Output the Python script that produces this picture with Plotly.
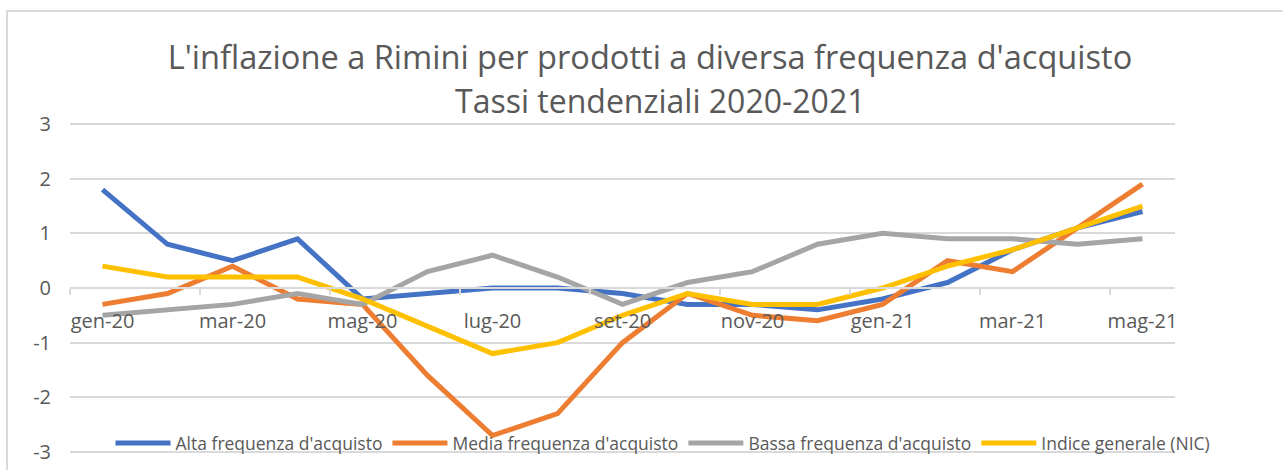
import plotly.graph_objects as go

months = ["gen-20", "feb-20", "mar-20", "apr-20", "mag-20", "giu-20", "lug-20", "ago-20",
          "set-20", "ott-20", "nov-20", "dic-20", "gen-21", "feb-21", "mar-21", "apr-21", "mag-21"]

alta = [1.8, 0.8, 0.5, 0.9, -0.2, -0.1, 0.0, 0.0, -0.1, -0.3, -0.3, -0.4, -0.2, 0.1, 0.7, 1.1, 1.4]
media = [-0.3, -0.1, 0.4, -0.2, -0.3, -1.6, -2.7, -2.3, -1.0, -0.1, -0.5, -0.6, -0.3, 0.5, 0.3, 1.1, 1.9]
bassa = [-0.5, -0.4, -0.3, -0.1, -0.3, 0.3, 0.6, 0.2, -0.3, 0.1, 0.3, 0.8, 1.0, 0.9, 0.9, 0.8, 0.9]
nic = [0.4, 0.2, 0.2, 0.2, -0.2, -0.7, -1.2, -1.0, -0.5, -0.1, -0.3, -0.3, 0.0, 0.4, 0.7, 1.1, 1.5]

y_ticks = [-3, -2, -1, 0, 1, 2, 3]
y_tick_labels = ["-3", "-2", "-1", "0", "1", "2", "3"]

series = [
    ("Alta frequenza d'acquisto", alta, "#4472C4"),
    ("Media frequenza d'acquisto", media, "#ED7D31"),
    ("Bassa frequenza d'acquisto", bassa, "#A5A5A5"),
    ("Indice generale (NIC)", nic, "#FFC000"),
]

title_line1 = "L'inflazione a Rimini per prodotti a diversa frequenza d'acquisto"
title_line2 = "Tassi tendenziali 2020-2021"

FONT = "Open Sans"
TXT = "#595959"
GRID = "#D9D9D9"

fig = go.Figure()
for name, vals, col in series:
    fig.add_trace(go.Scatter(x=months, y=vals, name=name, mode="lines",
                             line=dict(color=col, width=5)))

W, H = 1283, 470
L, R, T, B = 70, 108, 123, 17
PW, PH = W - L - R, H - T - B

fig.update_layout(
    width=W, height=H,
    margin=dict(l=L, r=R, t=T, b=B, autoexpand=False),
    paper_bgcolor="white", plot_bgcolor="white",
    font=dict(family=FONT, color=TXT),
    title=dict(text=title_line1, font=dict(family=FONT, size=32.6, color=TXT),
               x=(650 - L) / PW, xref="paper", xanchor="center",
               y=1 - 58 / H, yref="container", yanchor="middle"),
    showlegend=True,
    legend=dict(orientation="h", x=(663 - L) / PW, xanchor="center",
                y=1 - 443 / H, yref="container", yanchor="middle",
                font=dict(family=FONT, size=17.5, color=TXT),
                bgcolor="rgba(0,0,0,0)", itemwidth=55, traceorder="normal"),
    xaxis=dict(type="category", range=[-0.5, 16.5], anchor="free", position=0.5,
               automargin=False,
               showgrid=False, showline=True, linecolor=GRID, linewidth=2,
               tickmode="linear", tick0=0, dtick=2, tickson="boundaries", tickangle=0,
               ticks="outside", ticklen=6, tickcolor=GRID, tickwidth=1.5,
               tickfont=dict(family=FONT, size=20, color=TXT), ticklabelstandoff=15),
    yaxis=dict(range=[-3.02, 3.02], tickmode="array", tickvals=y_ticks, ticktext=y_tick_labels,
               automargin=False,
               showgrid=True, gridcolor=GRID, gridwidth=2,
               zeroline=True, zerolinecolor=GRID, zerolinewidth=2, showline=False,
               tickfont=dict(family=FONT, size=20, color=TXT), ticklabelstandoff=18),
    annotations=[dict(text=title_line2, xref="paper", yref="paper",
                      x=(660 - L) / PW, xanchor="center",
                      y=(H - B - 100) / PH, yanchor="middle", showarrow=False,
                      font=dict(family=FONT, size=32, color=TXT))],
    shapes=[dict(type="rect", xref="paper", yref="paper",
                 x0=(7 - L) / PW, x1=1.3,
                 y0=-0.3, y1=(H - B - 11) / PH,
                 line=dict(color=GRID, width=2), fillcolor="rgba(0,0,0,0)", layer="below")],
)

fig.write_html("out.html", config={"displayModeBar": False},
               post_script="document.body.style.margin='0';document.body.style.overflow='hidden';")
